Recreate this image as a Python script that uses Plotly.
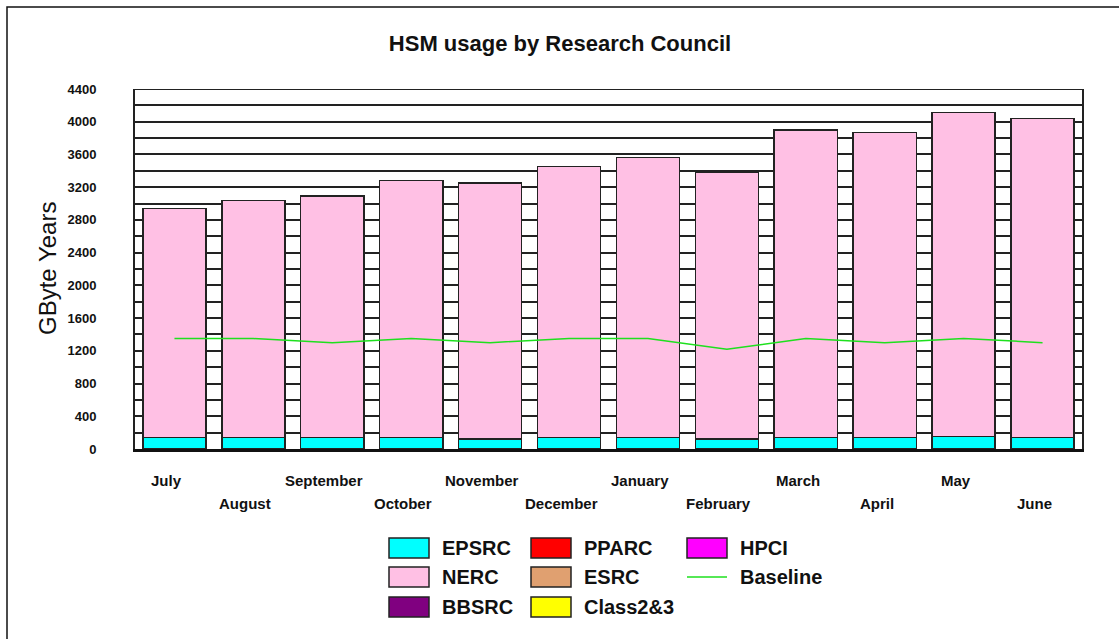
import plotly.graph_objects as go

# Monthly HSM usage (GByte Years) per research council
months = ["July", "August", "September", "October", "November", "December",
          "January", "February", "March", "April", "May", "June"]
totals = [2940, 3040, 3090, 3280, 3250, 3450, 3560, 3380, 3900, 3870, 4110, 4040]
epsrc = [140, 140, 140, 140, 125, 140, 140, 125, 140, 140, 150, 140]
nerc = [t - e for t, e in zip(totals, epsrc)]
bbsrc = [0] * 12
pparc = [0] * 12
esrc = [0] * 12
class23 = [0] * 12
hpci = [0] * 12
baseline = [1350, 1350, 1300, 1350, 1300, 1350, 1350, 1220, 1350, 1300, 1350, 1300]

y_ticks = list(range(0, 4401, 400))

FONT = "Liberation Sans, Arial, Helvetica, sans-serif"
OUTLINE = "#222222"

series = [
    ("EPSRC", epsrc, "#00FFFF"),
    ("NERC", nerc, "#FFC0E4"),
    ("BBSRC", bbsrc, "#800080"),
    ("PPARC", pparc, "#FF0000"),
    ("ESRC", esrc, "#E0A070"),
    ("Class2&3", class23, "#FFFF00"),
    ("HPCI", hpci, "#FF00FF"),
]

fig = go.Figure()
for name, vals, color in series:
    fig.add_trace(go.Bar(
        x=months, y=vals, name=name, showlegend=False,
        marker=dict(color=color, line=dict(color=OUTLINE, width=1.5)),
    ))

fig.add_trace(go.Scatter(
    x=months, y=baseline, name="Baseline", mode="lines", showlegend=False,
    line=dict(color="#1EE01E", width=1.5),
))

# plot-area geometry in pixels (used for the hand-built legend and frame)
L, R, T, B = 135, 1082, 89, 449
W, H = R - L, B - T


def px(xp):
    return (xp - L) / W


def py(yp):
    return (B - yp) / H


shapes = []
annotations = []

# outer chart frame
shapes.append(dict(type="rect", xref="paper", yref="paper",
                   x0=px(7), x1=px(1140), y0=py(7), y1=py(660),
                   line=dict(color="#111111", width=1.5), layer="below"))
# top edge of plotting area
shapes.append(dict(type="line", xref="paper", yref="y", x0=0, x1=1,
                   y0=4400, y1=4400, line=dict(color=OUTLINE, width=2)))

# month labels in two staggered rows
for i, m in enumerate(months):
    annotations.append(dict(
        x=m, xref="x", y=0, yref="y", yanchor="middle", xanchor="center",
        xshift=-8, yshift=-31 if i % 2 == 0 else -54, showarrow=False,
        text=f"<b>{m}</b>", font=dict(family=FONT, size=15, color="#111111"),
    ))

# y-axis title
annotations.append(dict(
    x=px(47), xref="paper", y=0.5, yref="paper", textangle=-90,
    xanchor="center", yanchor="middle", showarrow=False,
    text="GByte Years", font=dict(family=FONT, size=24, color="#111111"),
))

# legend: three columns of swatches
legend_cols = [
    (389, ["EPSRC", "NERC", "BBSRC"]),
    (531, ["PPARC", "ESRC", "Class2&3"]),
    (687, ["HPCI", "Baseline"]),
]
colors = {n: c for n, _, c in series}
row_y = [548, 577, 607]
for x0, names in legend_cols:
    for r, n in enumerate(names):
        yc = row_y[r]
        if n == "Baseline":
            shapes.append(dict(type="line", xref="paper", yref="paper",
                               x0=px(x0), x1=px(x0 + 40), y0=py(yc), y1=py(yc),
                               line=dict(color="#1EE01E", width=1.5)))
        else:
            shapes.append(dict(type="rect", xref="paper", yref="paper",
                               x0=px(x0), x1=px(x0 + 40),
                               y0=py(yc + 10), y1=py(yc - 10),
                               fillcolor=colors[n],
                               line=dict(color=OUTLINE, width=1.5)))
        annotations.append(dict(
            x=px(x0 + 51), xref="paper", y=py(yc), yref="paper",
            xanchor="left", yanchor="middle", showarrow=False,
            text=f"<b>{n}</b>", font=dict(family=FONT, size=20, color="#111111"),
        ))

fig.update_layout(
    width=1119, height=639,
    margin=dict(l=L, r=1119 - R, t=T, b=639 - B, pad=0),
    paper_bgcolor="white", plot_bgcolor="white",
    barmode="stack", bargap=0.2,
    title=dict(text="<b>HSM usage by Research Council</b>",
               x=px(560), xref="paper", xanchor="center",
               y=1 - 43 / 639, yanchor="middle",
               font=dict(family=FONT, size=22, color="#111111")),
    font=dict(family=FONT, color="#111111"),
    shapes=shapes,
    annotations=annotations,
    showlegend=False,
)

fig.update_xaxes(
    showticklabels=False, ticks="", showgrid=False,
    showline=True, linecolor="#111111", linewidth=3, mirror=False,
    range=[-0.5, 11.5], zeroline=False,
)
fig.update_yaxes(
    range=[0, 4400], tickvals=y_ticks, ticktext=[f"<b>{v}</b>" for v in y_ticks],
    tickfont=dict(family=FONT, size=13, color="#111111"),
    ticks="", ticklabelstandoff=34,
    showgrid=True, gridcolor=OUTLINE, gridwidth=2,
    minor=dict(dtick=200, showgrid=True, gridcolor=OUTLINE, gridwidth=2),
    showline=True, linecolor=OUTLINE, linewidth=2, mirror=True,
    zeroline=False,
)

fig.write_html("out.html")
